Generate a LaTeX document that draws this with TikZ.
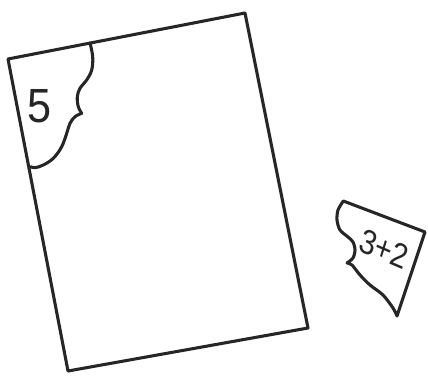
\documentclass[tikz,border=0pt]{standalone}
\usepackage{fontspec}
\setmainfont{Liberation Sans}
\begin{document}
\begin{tikzpicture}[x=0.75pt,y=-0.75pt,
  ink/.style={draw=black!85,line width=2.3pt,line join=round,line cap=round},
  digit/.style={text=black!85,inner sep=0pt}]
\useasboundingbox (0,0) rectangle (428,375);
% main sheet
\draw[ink] (8,59) -- (245,13) -- (308,328) -- (68,371) -- cycle;
% cut-out line in the top-left corner
\draw[ink] plot[smooth,tension=0.6] coordinates {(90,43) (92.7,56.7) (91.7,70) (86.7,80) (80,88.3) (77.3,96.7) (78.3,106.7) (81.7,113.3)};
\draw[ink] plot[smooth,tension=0.6] coordinates {(81.7,113.3) (75,116.7) (70,123.3) (66.7,133.3) (61.7,146.7) (53.3,158.3) (43.3,165) (35,167.7) (30.7,166.7)};
\node[digit,font=\fontsize{36}{36}\selectfont,xscale=0.9] (five) at (40,106) {5};
% loose piece
\draw[ink] plot[smooth,tension=0.5] coordinates {(347,263) (353,258) (355,250) (353,242) (348,237) (340,230) (337,220) (338,210) (343.3,201)}
  -- (425,232) -- (397,316)
  plot[smooth,tension=0.5] coordinates {(397,316) (393,308) (383,295) (370,285) (360,275) (352,265) (347,263)};
\node[digit,font=\fontsize{26}{26}\selectfont,xscale=0.85,rotate=-20] (sum) at (384,249) {3+2};
\end{tikzpicture}
\end{document}
